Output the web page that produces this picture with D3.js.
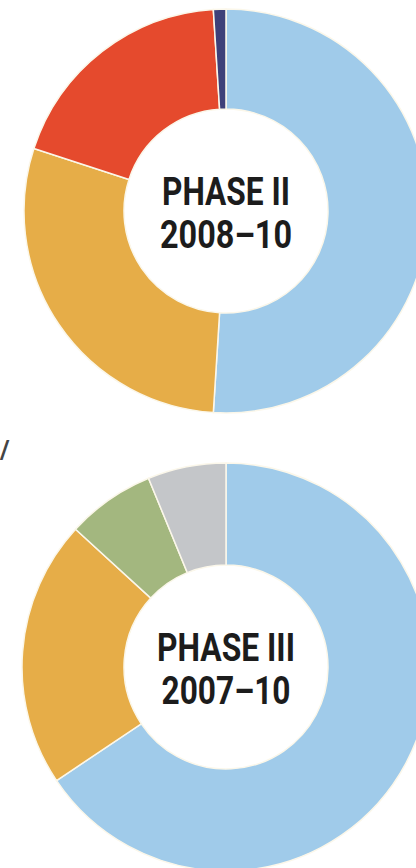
<!DOCTYPE html>
<html>
<head>
<meta charset="utf-8">
<script src="https://cdn.jsdelivr.net/npm/d3@7"></script>
<style>
  body { margin: 0; background: #fff; }
  svg { display: block; }
</style>
</head>
<body>
<div id="Chart"></div>
<script>
// phase II slices, clockwise from 12 o'clock
var phase2Cats = ["A", "B", "C", "D"];
var phase2Vals = [51, 29, 19, 1];
var phase2Cols = ["#a0cbea", "#e6ad48", "#e54a2d", "#3e4079"];
var phase2Lines = ["PHASE II", "2008\u201310"];

// phase III slices
var phase3Cats = ["A", "B", "E", "F"];
var phase3Vals = [65.6, 21.2, 7, 6.2];
var phase3Cols = ["#a0cbea", "#e6ad48", "#a3b77f", "#c4c6c9"];
var phase3Lines = ["PHASE III", "2007\u201310"];

var width = 416, height = 868;

var svg = d3.select("#Chart")
    .append("svg")
    .attr("width", width)
    .attr("height", height)
    .attr("class", "chart");

function donut(cx, cy, outer, inner, cats, vals, cols, lines, lineW) {
    var data = cats.map(function(c, i) { return {cat: c, value: vals[i], color: cols[i]}; });
    var pie = d3.pie().sort(null).value(function(d) { return d.value; });
    var arc = d3.arc().innerRadius(inner).outerRadius(outer);

    var g = svg.append("g")
        .attr("transform", "translate(" + cx + "," + cy + ")");

    g.selectAll("path.slice")
        .data(pie(data))
        .enter().append("path")
        .attr("class", "slice")
        .attr("d", arc)
        .attr("fill", function(d) { return d.data.color; })
        .attr("stroke", "#fbf7ea")
        .attr("stroke-width", 1.5);

    // center label, two lines
    g.selectAll("text.lbl")
        .data(lines)
        .enter().append("text")
        .attr("class", "lbl")
        .attr("x", 0)
        .attr("y", function(d, i) { return i == 0 ? -6 : 37; })
        .attr("text-anchor", "middle")
        .attr("textLength", function(d, i) { return lineW[i]; })
        .attr("lengthAdjust", "spacingAndGlyphs")
        .style("font-family", "Roboto, 'DejaVu Sans Condensed', sans-serif")
        .style("font-weight", "700")
        .style("font-size", "39px")
        .style("fill", "#1c1c1c")
        .text(function(d) { return d; });
}

donut(226, 211, 202, 102, phase2Cats, phase2Vals, phase2Cols, phase2Lines, [128, 132]);
donut(226, 667, 204, 102, phase3Cats, phase3Vals, phase3Cols, phase3Lines, [138, 129]);

// stray fragment of neighbouring text at the left edge
svg.append("text")
    .attr("x", 0)
    .attr("y", 459)
    .style("font-family", "Roboto")
    .style("font-weight", "700")
    .style("font-size", "26px")
    .style("fill", "#444")
    .text("/");
</script>
</body>
</html>
